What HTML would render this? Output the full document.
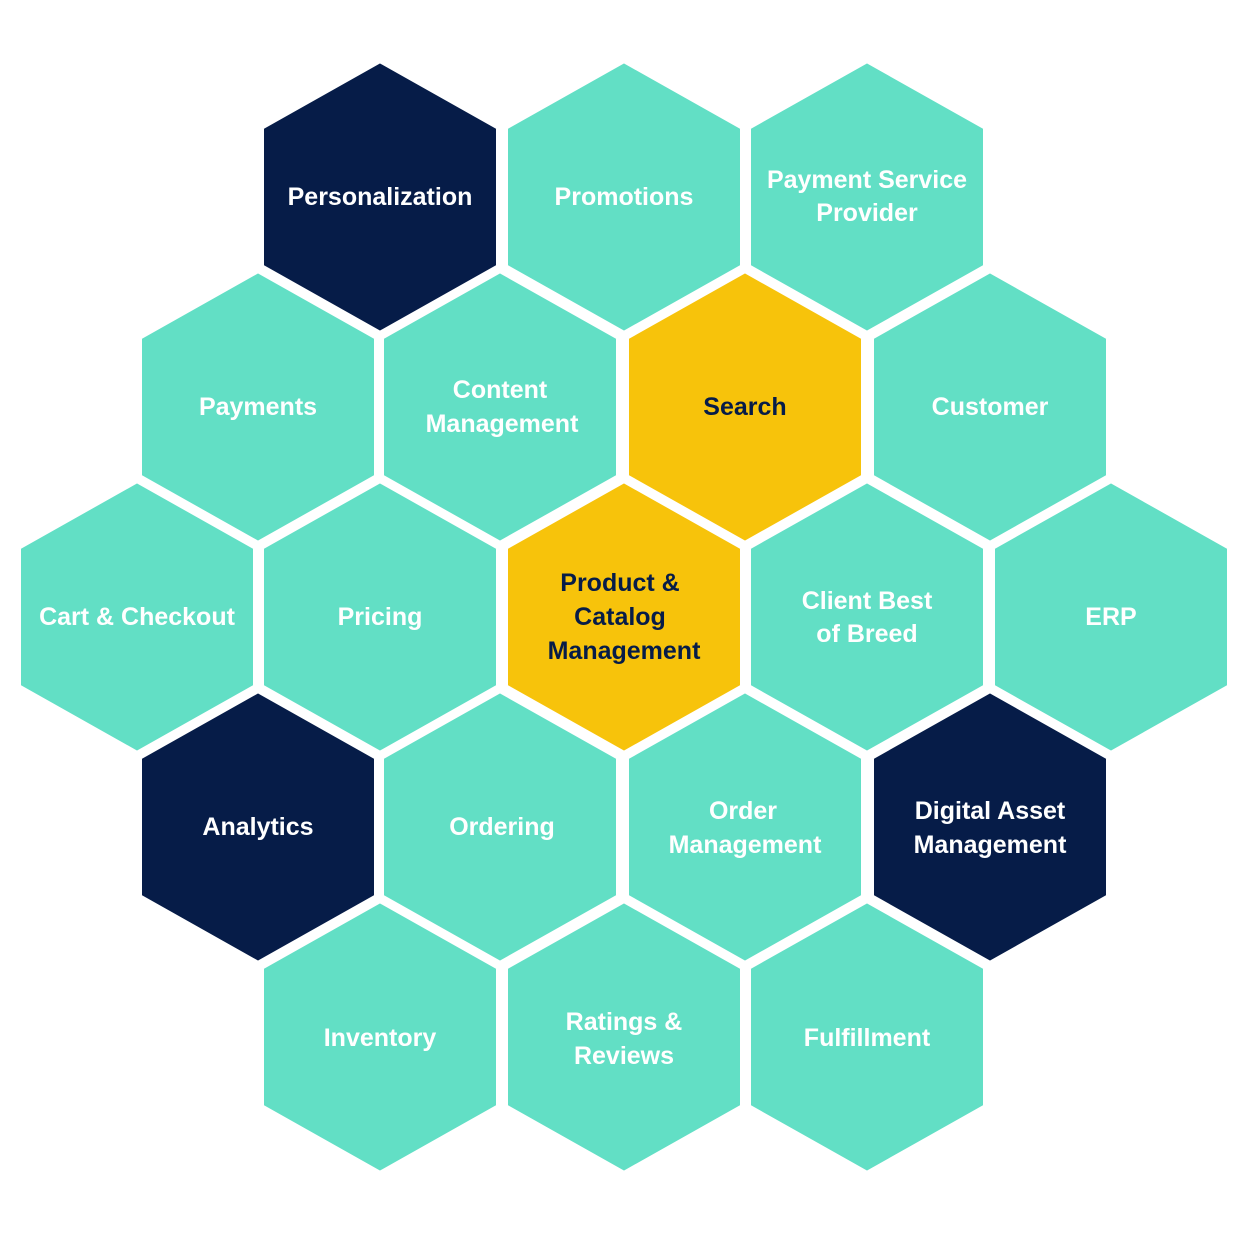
<!DOCTYPE html>
<html><head><style>
html,body{margin:0;padding:0;background:#fff;}
svg{display:block}
text{font-family:"Liberation Sans",sans-serif;font-size:25px;font-weight:bold;text-anchor:middle;}
</style></head><body>
<svg width="1242" height="1242" viewBox="0 0 1242 1242">
<defs>
<polygon id="h" points="0,-137 119,-70 119,70 0,137 -119,70 -119,-70" stroke="#fff" stroke-width="6" stroke-linejoin="miter"/>
</defs>
<g fill="#62dfc5">
<use href="#h" x="380" y="197" fill="#061c48"/>
<use href="#h" x="624" y="197"/>
<use href="#h" x="867" y="197"/>
<use href="#h" x="258" y="407"/>
<use href="#h" x="500" y="407"/>
<use href="#h" x="745" y="407" fill="#f7c30b"/>
<use href="#h" x="990" y="407"/>
<use href="#h" x="137" y="617"/>
<use href="#h" x="380" y="617"/>
<use href="#h" x="624" y="617" fill="#f7c30b"/>
<use href="#h" x="867" y="617"/>
<use href="#h" x="1111" y="617"/>
<use href="#h" x="258" y="827" fill="#061c48"/>
<use href="#h" x="500" y="827"/>
<use href="#h" x="745" y="827"/>
<use href="#h" x="990" y="827" fill="#061c48"/>
<use href="#h" x="380" y="1037"/>
<use href="#h" x="624" y="1037"/>
<use href="#h" x="867" y="1037"/>
</g>
<g fill="#fff">
<text x="380" y="205">Personalization</text>
<text x="624" y="205">Promotions</text>
<text x="867" y="188">Payment Service</text>
<text x="867" y="221">Provider</text>
<text x="258" y="415">Payments</text>
<text x="500" y="398">Content</text>
<text x="502" y="432">Management</text>
<text x="745" y="415" fill="#061c48">Search</text>
<text x="990" y="415">Customer</text>
<text x="137" y="625">Cart &amp; Checkout</text>
<text x="380" y="625">Pricing</text>
<text x="620" y="591" fill="#061c48">Product &amp;</text>
<text x="620" y="625" fill="#061c48">Catalog</text>
<text x="624" y="659" fill="#061c48">Management</text>
<text x="867" y="609">Client Best</text>
<text x="867" y="642">of Breed</text>
<text x="1111" y="625">ERP</text>
<text x="258" y="835">Analytics</text>
<text x="502" y="835">Ordering</text>
<text x="743" y="819">Order</text>
<text x="745" y="853">Management</text>
<text x="990" y="819">Digital Asset</text>
<text x="990" y="853">Management</text>
<text x="380" y="1046">Inventory</text>
<text x="624" y="1030">Ratings &amp;</text>
<text x="624" y="1064">Reviews</text>
<text x="867" y="1046">Fulfillment</text>
</g>
</svg>
</body></html>
